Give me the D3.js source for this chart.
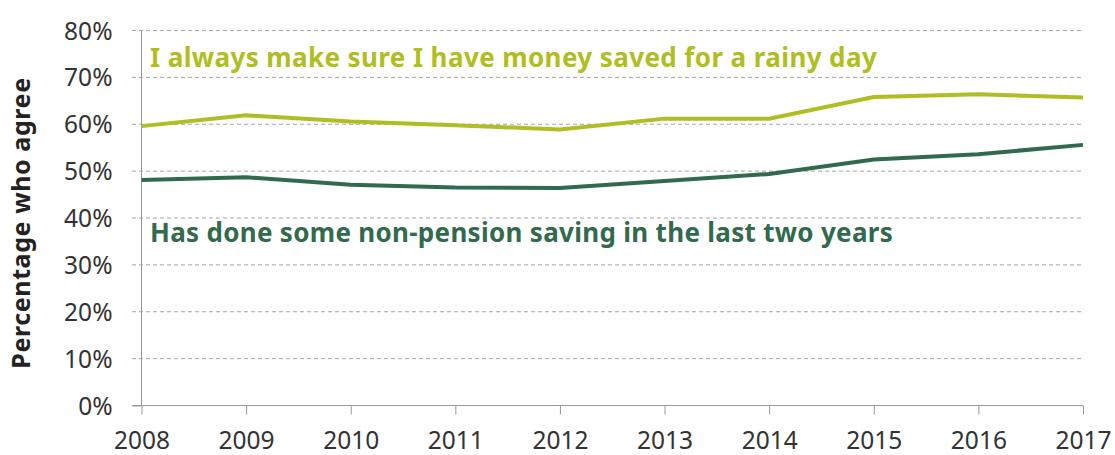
<!DOCTYPE html>
<html>
<head>
<meta charset="utf-8">
<script src="https://cdn.jsdelivr.net/npm/d3@7"></script>
<style>
  body { margin: 0; background: #fff; }
  text { font-family: "Noto Sans", "Open Sans", sans-serif; }
</style>
</head>
<body>
<svg id="chart" width="1115" height="455"></svg>
<script>
var years = [2008, 2009, 2010, 2011, 2012, 2013, 2014, 2015, 2016, 2017];
var rainyDay = [59.6, 61.9, 60.6, 59.8, 58.9, 61.2, 61.2, 65.8, 66.4, 65.7];
var nonPension = [48.1, 48.7, 47.1, 46.5, 46.4, 47.9, 49.4, 52.5, 53.6, 55.6];
var yTicks = [0, 10, 20, 30, 40, 50, 60, 70, 80];

var svg = d3.select("#chart");
var xScale = d3.scaleLinear().domain([2008, 2017]).range([141.5, 1083]);
var yScale = d3.scaleLinear().domain([0, 80]).range([405.5, 30.5]);

// dashed gridlines
svg.append("g")
  .selectAll("line")
  .data(yTicks.filter(d => d > 0))
  .enter()
  .append("line")
  .attr("x1", 132)
  .attr("x2", xScale(2017))
  .attr("y1", d => yScale(d))
  .attr("y2", d => yScale(d))
  .style("stroke", "#a6a6a6")
  .style("stroke-width", 1)
  .style("stroke-dasharray", "4,3");

var yAxis = d3.axisLeft(yScale).tickValues(yTicks).tickSize(9).tickPadding(20)
  .tickFormat(d => d + "%");
var yAxisG = svg.append("g").attr("transform", "translate(" + xScale(2008) + ",0)").call(yAxis);
yAxisG.select(".domain").style("stroke", "#999").attr("d", "M0," + yScale(80) + "V" + yScale(0));
yAxisG.selectAll(".tick line").style("stroke", "#999");
yAxisG.selectAll(".tick").filter(d => d > 0).select("line").remove();
yAxisG.selectAll("text").style("font-size", "24.5px").style("fill", "#333")
  .attr("dy", "0.35em");

var xAxis = d3.axisBottom(xScale).tickValues(years).tickSize(9).tickPadding(17)
  .tickFormat(d3.format("d"));
var xAxisG = svg.append("g").attr("transform", "translate(0," + yScale(0) + ")").call(xAxis);
xAxisG.select(".domain").style("stroke", "#999").attr("d", "M" + 132 + ",0H" + xScale(2017));
xAxisG.selectAll(".tick line").style("stroke", "#999");
xAxisG.selectAll("text").style("font-size", "24.5px").style("fill", "#333");

var line = d3.line()
  .x((d, i) => xScale(years[i]))
  .y(d => yScale(d));

svg.append("path")
  .datum(rainyDay)
  .attr("d", line)
  .style("fill", "none")
  .style("stroke", "#afbe22")
  .style("stroke-width", 4);

svg.append("path")
  .datum(nonPension)
  .attr("d", line)
  .style("fill", "none")
  .style("stroke", "#326a4d")
  .style("stroke-width", 4);

// series labels
svg.append("text")
  .text("I always make sure I have money saved for a rainy day")
  .attr("x", 150)
  .attr("y", 67)
  .style("font-size", "26px")
  .style("letter-spacing", "0.4px")
  .style("font-weight", "bold")
  .style("fill", "#afbe22");

svg.append("text")
  .text("Has done some non-pension saving in the last two years")
  .attr("x", 150)
  .attr("y", 242)
  .style("font-size", "26px")
  .style("letter-spacing", "0.3px")
  .style("font-weight", "bold")
  .style("fill", "#326a4d");

svg.append("text")
  .text("Percentage who agree")
  .attr("text-anchor", "middle")
  .attr("transform", "translate(30,223)rotate(-90)")
  .style("font-size", "25px")
  .style("letter-spacing", "0.6px")
  .style("font-weight", "bold")
  .style("fill", "#222");
</script>
</body>
</html>
